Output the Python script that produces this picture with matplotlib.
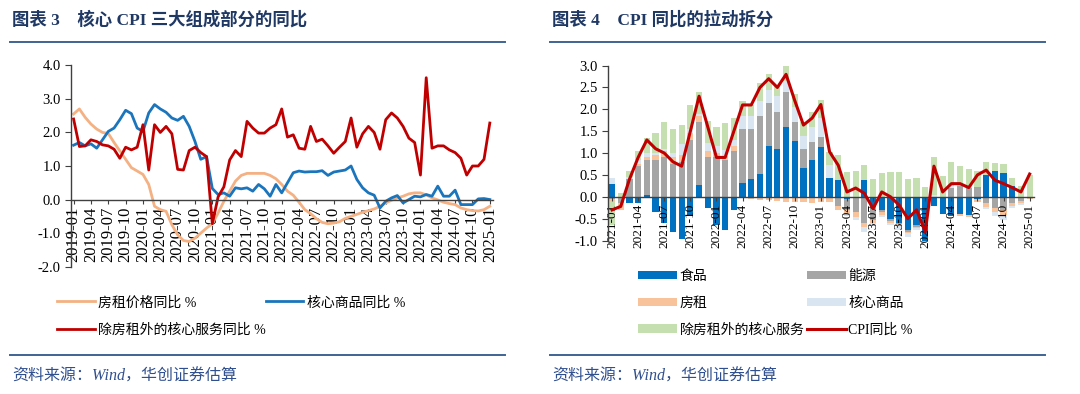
import numpy as np
import pandas as pd
import matplotlib
matplotlib.use("Agg")
import matplotlib.pyplot as plt
from matplotlib.lines import Line2D
from matplotlib.ticker import FormatStrFormatter

plt.rcParams['font.family'] = ['Noto Sans CJK SC', 'DejaVu Sans']
plt.rcParams['axes.unicode_minus'] = False

# ---------------- left chart: core CPI components YoY, 2019-01 .. 2025-01
months_left = list(pd.date_range("2019-01", "2025-01", freq="MS").strftime("%Y-%m"))

rent_yoy = [2.55, 2.7, 2.45, 2.25, 2.1, 2.0, 1.97, 1.7, 1.45, 1.2,
            0.95, 0.85, 0.75, 0.45, -0.2, -0.3, -0.35, -0.75, -1.05, -1.22,
            -1.25, -1.15, -1.0, -0.85, -0.72, -0.4, -0.05, 0.25, 0.55, 0.72,
            0.78, 0.78, 0.78, 0.78, 0.72, 0.62, 0.45, 0.25, 0.13, -0.08,
            -0.3, -0.42, -0.57, -0.68, -0.72, -0.7, -0.66, -0.56, -0.5, -0.44,
            -0.38, -0.33, -0.28, -0.2, -0.1, -0.02, 0.05, 0.1, 0.17, 0.2,
            0.2, 0.14, 0.05, -0.01, -0.08, -0.12, -0.15, -0.25, -0.3, -0.33,
            -0.34, -0.3, -0.2]

goods_yoy = [1.62, 1.7, 1.6, 1.66, 1.53, 1.78, 2.03, 2.13, 2.38, 2.66,
             2.56, 2.13, 2.03, 2.58, 2.83, 2.7, 2.6, 2.43, 2.36, 2.48,
             2.18, 1.73, 1.2, 1.28, 0.33, 0.15, 0.2, 0.1, 0.35, 0.32,
             0.35, 0.25, 0.45, 0.32, 0.1, 0.45, 0.2, 0.5, 0.8, 0.85,
             0.82, 0.83, 0.83, 0.86, 0.72, 0.82, 0.85, 0.88, 1.0, 0.6,
             0.35, 0.2, 0.13, -0.25, -0.05, 0.05, 0.12, -0.1, 0.0, 0.1,
             0.08, 0.15, 0.1, 0.4, 0.1, 0.1, 0.28, -0.15, -0.15, -0.15,
             0.02, 0.03, 0.0]

svc_ex_rent_yoy = [2.4, 1.58, 1.6, 1.78, 1.73, 1.63, 1.6, 1.5, 1.23, 1.56,
                   1.48, 1.56, 2.23, 0.88, 2.23, 2.0, 2.18, 1.96, 0.9, 0.88,
                   1.46, 1.56, 1.4, 1.28, -0.72, 0.08, 0.38, 1.18, 1.46, 1.28,
                   2.33, 2.13, 1.98, 1.98, 2.13, 2.23, 2.7, 1.86, 1.93, 1.53,
                   1.5, 2.18, 1.73, 1.8, 1.6, 1.38, 1.56, 1.73, 2.43, 1.56,
                   1.96, 2.18, 2.0, 1.5, 2.38, 2.58, 2.43, 2.18, 1.83, 1.7,
                   0.73, 3.63, 1.53, 1.6, 1.6, 1.48, 1.4, 1.23, 0.73, 1.0,
                   1.0, 1.2, 2.28]

# ---------------- right chart: CPI YoY contributions, 2021-01 .. 2025-01
months_right = list(pd.date_range("2021-01", "2025-01", freq="MS").strftime("%Y-%m"))

food = [0.3, -0.03, -0.15, -0.15, 0.03, -0.35, -0.6, -0.8, -0.97, -0.45,
        0.28, -0.25, -0.65, -0.75, -0.3, 0.32, 0.4, 0.52, 1.15, 1.1,
        1.6, 1.27, 0.65, 0.85, 1.13, 0.43, 0.38, -0.05, 0.0, 0.38,
        -0.23, -0.3, -0.5, -0.6, -0.75, -0.65, -1.0, -0.2, -0.4, -0.45,
        -0.4, -0.42, -0.05, 0.5, 0.6, 0.55, 0.25, 0.0, 0.0]
energy = [-0.05, -0.12, 0.4, 0.7, 0.82, 0.85, 0.9, 0.75, 0.8, 1.3,
          1.44, 0.92, 0.9, 0.85, 1.05, 1.23, 1.15, 1.33, 1.0, 0.85,
          0.8, 0.45, 0.45, 0.4, 0.23, 0.0, -0.2, -0.25, -0.35, -0.6,
          -0.3, -0.05, -0.05, -0.03, -0.05, -0.05, 0.0, 0.0, 0.0, 0.2,
          0.25, 0.2, 0.22, -0.15, -0.25, -0.3, -0.15, -0.1, 0.0]
rent = [-0.05, -0.15, 0.0, 0.05, 0.07, 0.1, 0.15, 0.15, 0.15, 0.15,
        0.13, 0.12, 0.1, 0.08, 0.1, -0.03, -0.05, -0.07, -0.08, -0.1,
        -0.13, -0.13, -0.12, -0.15, -0.13, -0.12, -0.1, -0.1, -0.12, -0.1,
        -0.08, -0.06, -0.05, -0.04, -0.03, -0.02, -0.02, 0.0, 0.0, 0.0,
        -0.05, -0.05, -0.06, -0.08, -0.1, -0.12, -0.05, -0.05, -0.05]
core_goods = [0.14, 0.0, 0.05, 0.1, 0.08, 0.05, 0.05, 0.1, 0.25, 0.1,
              0.05, 0.2, 0.15, 0.15, 0.15, 0.3, 0.3, 0.35, 0.3, 0.35,
              0.25, 0.33, 0.3, 0.35, 0.45, 0.3, 0.0, -0.05, -0.05, -0.1,
              -0.05, -0.05, -0.05, -0.08, -0.1, -0.05, -0.03, 0.05, 0.0, 0.05,
              0.0, 0.0, 0.0, -0.05, -0.1, -0.1, -0.05, -0.03, 0.0]
core_svc = [-0.55, 0.08, 0.15, 0.2, 0.35, 0.45, 0.6, 0.55, 0.45, 0.55,
            0.5, 0.5, 0.45, 0.6, 0.5, 0.35, 0.25, 0.4, 0.35, 0.25,
            0.35, 0.3, 0.3, 0.35, 0.4, 0.3, 0.57, 0.57, 0.6, 0.35,
            0.4, 0.55, 0.57, 0.57, 0.4, 0.44, 0.23, 0.85, 0.47, 0.55,
            0.45, 0.43, 0.38, 0.3, 0.18, 0.21, 0.17, 0.24, 0.5]
cpi_yoy = [-0.3, -0.22, 0.4, 0.9, 1.3, 1.1, 1.0, 0.8, 0.7, 1.5,
           2.3, 1.6, 0.9, 0.9, 1.5, 2.1, 2.1, 2.5, 2.7, 2.5,
           2.8, 2.2, 1.64, 1.8, 2.11, 1.03, 0.72, 0.11, 0.2, 0.08,
           -0.27, 0.11, 0.0, -0.19, -0.5, -0.3, -0.8, 0.7, 0.11, 0.3,
           0.3, 0.21, 0.5, 0.61, 0.38, 0.3, 0.21, 0.11, 0.52]

W, H = 1080, 394
NAVY = '#1F3864'
RULE = '#3F6494'
SERIF = 'Liberation Serif'
MIXED = ['Liberation Serif', 'Noto Sans CJK SC']

fig = plt.figure(figsize=(W / 100, H / 100), dpi=100)


def px_axes(x0, y_top, x1, y_bot):
    return fig.add_axes([x0 / W, 1 - y_bot / H, (x1 - x0) / W, (y_bot - y_top) / H])


def style_axes(ax, xfont):
    for s in ['top', 'right']:
        ax.spines[s].set_visible(False)
    for s in ['left', 'bottom']:
        ax.spines[s].set_color('#404040')
        ax.spines[s].set_linewidth(1.0)
    ax.spines['bottom'].set_position(('data', 0))
    ax.tick_params(axis='y', direction='out', length=4, color='#404040', pad=3)
    ax.tick_params(axis='x', direction='out', length=3, color='#404040', pad=2)
    for t in ax.get_yticklabels():
        t.set_fontfamily(SERIF)
        t.set_fontsize(10.5)
    for t in ax.get_xticklabels():
        t.set_fontfamily(SERIF)
        t.set_fontsize(xfont)
        t.set_rotation(90)
    ax.yaxis.set_major_formatter(FormatStrFormatter('%.1f'))
    ax.set_facecolor('none')


# ---- left chart
ax1 = px_axes(70.7, 65.3, 492.7, 266.7)
x1 = np.arange(len(months_left))
h_rent, = ax1.plot(x1, rent_yoy, color='#F4B183', lw=2.0)
h_goods, = ax1.plot(x1, goods_yoy, color='#1B75BC', lw=2.0)
h_svc, = ax1.plot(x1, svc_ex_rent_yoy, color='#C00000', lw=2.0)
ax1.set_xlim(-0.5, len(months_left) - 0.5)
ax1.set_ylim(-2, 4)
ax1.set_yticks(np.arange(-2, 4.01, 1))
ax1.set_xticks(x1[::3])
ax1.set_xticklabels(months_left[::3])
style_axes(ax1, 12)

ax1.legend([h_rent, h_svc, h_goods],
           ['房租价格同比 %', '除房租外的核心服务同比 %', '核心商品同比 %'],
           loc='upper left', bbox_to_anchor=(57 / W, 1 - 296 / H),
           bbox_transform=fig.transFigure, ncol=2, frameon=False,
           prop={'family': MIXED, 'size': 10},
           handlelength=2.7, handletextpad=0.25,
           columnspacing=0.0, labelspacing=1.0, borderpad=0, borderaxespad=0)

# ---- right chart
ax2 = px_axes(607.7, 65.6, 1034, 240.5)
x2 = np.arange(len(months_right))
parts = [(food, '#0070C0', '食品'), (energy, '#A5A5A5', '能源'),
         (rent, '#F8C39B', '房租'), (core_goods, '#DAE5F2', '核心商品'),
         (core_svc, '#C5DFB0', '除房租外的核心服务')]
pos_base = np.zeros(len(x2))
neg_base = np.zeros(len(x2))
handles = {}
for vals, col, name in parts:
    v = np.array(vals)
    base = np.where(v >= 0, pos_base, neg_base)
    handles[name] = ax2.bar(x2, v, bottom=base, width=0.72, color=col, linewidth=0)
    pos_base = pos_base + np.where(v >= 0, v, 0)
    neg_base = neg_base + np.where(v < 0, v, 0)
h_cpi, = ax2.plot(x2, cpi_yoy, color='#C00000', lw=2.2, zorder=5)
ax2.set_xlim(-0.5, len(months_right) - 0.5)
ax2.set_ylim(-1, 3)
ax2.set_yticks(np.arange(-1, 3.01, 0.5))
ax2.set_xticks(x2[::3])
ax2.set_xticklabels(months_right[::3])
style_axes(ax2, 9.5)

ax2.legend([handles['食品'], handles['房租'], handles['除房租外的核心服务'],
            handles['能源'], handles['核心商品'], h_cpi],
           ['食品', '房租', '除房租外的核心服务', '能源', '核心商品', 'CPI同比 %'],
           loc='upper left', bbox_to_anchor=(638 / W, 1 - 270 / H),
           bbox_transform=fig.transFigure, ncol=2, frameon=False,
           prop={'family': MIXED, 'size': 10},
           handlelength=2.8, handleheight=0.55, handletextpad=0.2,
           columnspacing=0.15, labelspacing=0.98, borderpad=0, borderaxespad=0)

# ---- titles, rules, sources
for x0, x1r, title in [(12, 505, '图表 3    核心 CPI 三大组成部分的同比'),
                       (552, 1045, '图表 4    CPI 同比的拉动拆分')]:
    fig.text(x0 / W, 1 - 20 / H, title, fontsize=12.5, fontweight='bold',
             family=MIXED, color=NAVY, va='center', ha='left')
    fig.add_artist(Line2D([(x0 - 2) / W, x1r / W], [1 - 42 / H, 1 - 42 / H],
                          color=RULE, lw=1.4, transform=fig.transFigure))
    fig.add_artist(Line2D([(x0 - 2) / W, x1r / W], [1 - 355 / H, 1 - 355 / H],
                          color=RULE, lw=1.4, transform=fig.transFigure))
    fig.text(x0 / W, 1 - 377 / H, '资料来源：Wind，华创证券估算', fontsize=11.5,
             style='italic', family=MIXED, color='#2F4F8F', va='center', ha='left')

fig.savefig('out.png', dpi=100)
